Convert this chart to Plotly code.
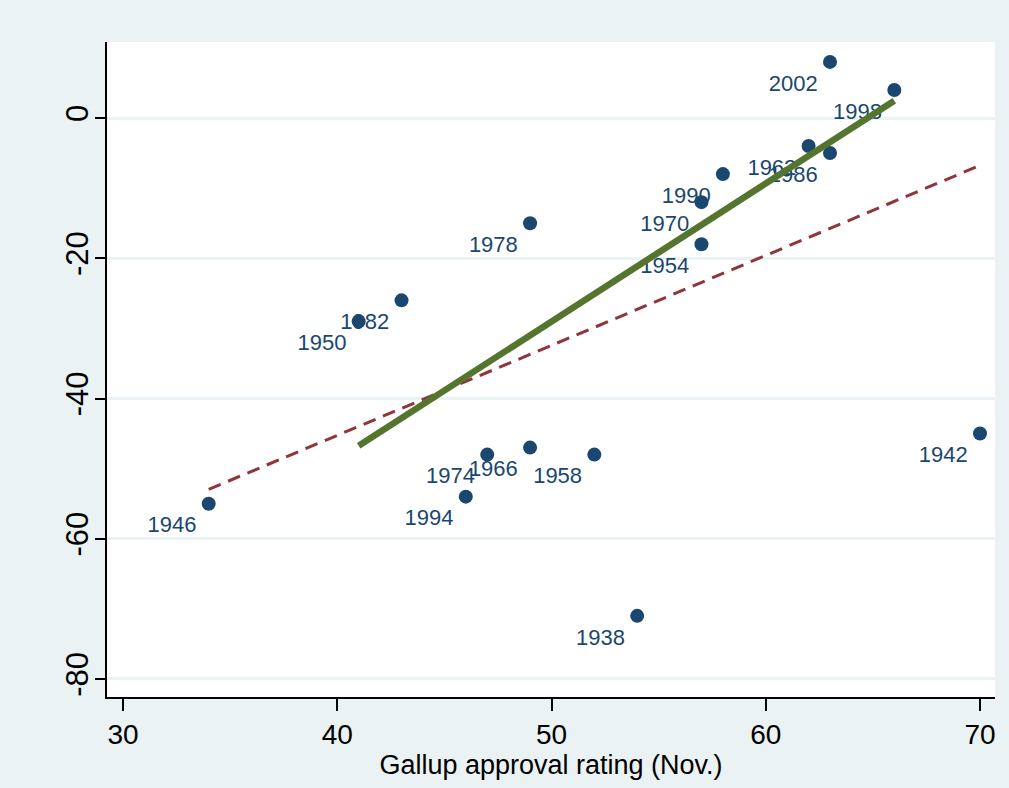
import numpy as np
import plotly.graph_objects as go

# Midterm elections: presidential approval vs. seat change of president's party
years = [1938, 1942, 1946, 1950, 1954, 1958, 1962, 1966, 1970,
         1974, 1978, 1982, 1986, 1990, 1994, 1998, 2002]
approval = [54, 70, 34, 41, 57, 52, 62, 49, 57, 47, 49, 43, 63, 58, 46, 66, 63]
seat_change = [-71, -45, -55, -29, -18, -48, -4, -47, -12,
               -48, -15, -26, -5, -8, -54, 4, 8]
# years left out of the second linear fit
excluded_years = [1938, 1942, 1946]

x_ticks = [30, 40, 50, 60, 70]
y_ticks = [0, -20, -40, -60, -80]

NAVY = "#1A476F"
MAROON = "#90353B"
GREEN = "#55752F"
BG = "#EAF2F3"
SANS = "Liberation Sans, Arial, sans-serif"

x = np.array(approval, dtype=float)
y = np.array(seat_change, dtype=float)
labels = [str(v) for v in years]

# linear fit on all elections
b_all = np.polyfit(x, y, 1)
xa = np.array([x.min(), x.max()])
ya = np.polyval(b_all, xa)

# linear fit without the excluded elections
keep = np.array([yr not in excluded_years for yr in years])
b_sub = np.polyfit(x[keep], y[keep], 1)
xs = np.array([x[keep].min(), x[keep].max()])
ys = np.polyval(b_sub, xs)

fig = go.Figure()
# year labels (transparent markers only set the label offset)
fig.add_trace(go.Scatter(
    x=approval, y=seat_change, mode="markers+text", text=labels,
    textposition="bottom left",
    textfont=dict(family=SANS, size=22, color=NAVY),
    marker=dict(size=18, color="rgba(0,0,0,0)"),
    hoverinfo="skip", showlegend=False))
# markers drawn above neighbouring labels
fig.add_trace(go.Scatter(
    x=approval, y=seat_change, mode="markers",
    marker=dict(size=14, color=NAVY), showlegend=False))
fig.add_trace(go.Scatter(
    x=xa, y=ya, mode="lines",
    line=dict(color=MAROON, width=3, dash="13px,8px"), showlegend=False))
fig.add_trace(go.Scatter(
    x=xs, y=ys, mode="lines",
    line=dict(color=GREEN, width=6.5), showlegend=False))

fig.update_layout(
    width=1009, height=788,
    margin=dict(l=107, r=14, t=42, b=91),
    paper_bgcolor=BG, plot_bgcolor="white",
    showlegend=False,
)
fig.update_xaxes(
    range=[29.253, 70.70], tickvals=x_ticks,
    ticktext=[str(v) for v in x_ticks],
    showgrid=False, zeroline=False,
    showline=True, linecolor="black", linewidth=1.5,
    ticks="outside", ticklen=12, tickwidth=1.5, tickcolor="black",
    tickfont=dict(family=SANS, size=28, color="black"),
    title=dict(text="Gallup approval rating (Nov.)",
               font=dict(family=SANS, size=27, color="black"), standoff=5),
)
fig.update_yaxes(
    range=[-82.57, 10.84], tickvals=y_ticks,
    ticktext=[str(v) for v in y_ticks],
    showgrid=True, gridcolor=BG, gridwidth=3, zeroline=False,
    showline=True, linecolor="black", linewidth=1.5,
    ticks="outside", ticklen=10, tickwidth=1.5, tickcolor="black",
    tickangle=-90, ticklabelstandoff=-5,
    tickfont=dict(family=SANS, size=31, color="black"),
)

fig.write_html("out.html")
